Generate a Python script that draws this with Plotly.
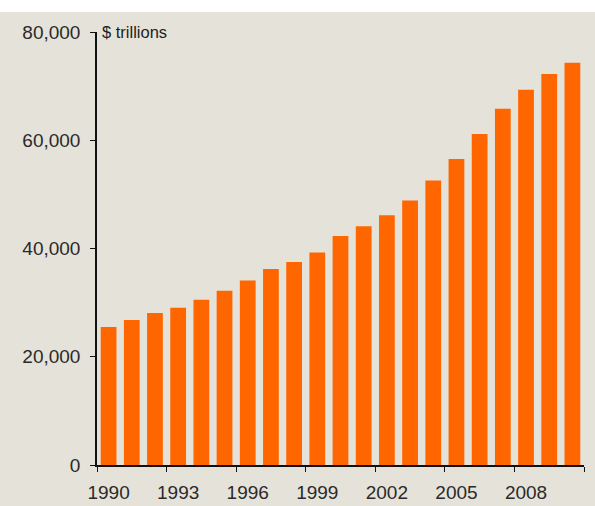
import plotly.graph_objects as go

years = [str(y) for y in range(1990, 2011)]
values = [25500, 26800, 28100, 29060, 30530, 32200, 34100, 36200, 37500, 39260,
          42290, 44130, 46160, 48860, 52550, 56550, 61160, 65830, 69340, 72230, 74320]
y_ticks = [0, 20000, 40000, 60000, 80000]
unit_label = "$ trillions"

bg = "#e5e2d9"
txt = "#2a2a2a"

fig = go.Figure(go.Bar(x=years, y=values, marker=dict(color="#ff6600", line=dict(width=0)),
                       hoverinfo="skip"))

fig.update_layout(
    width=595, height=506,
    paper_bgcolor=bg, plot_bgcolor=bg,
    margin=dict(l=97, r=11, t=32, b=41, autoexpand=False),
    bargap=0.32,
    showlegend=False,
    font=dict(family="Liberation Sans, Arial, sans-serif", size=19, color=txt),
    shapes=[dict(type="rect", xref="paper", yref="paper", x0=-0.3, x1=1.1,
                 y0=1.0 + 20/433, y1=1.2, fillcolor="white", line=dict(width=0), layer="above")],
    annotations=[dict(text=unit_label, xref="paper", yref="y", x=0.006, y=80000,
                      xanchor="left", yanchor="middle", showarrow=False,
                      font=dict(size=16.5, color="#1e1e1e"))],
)
fig.update_xaxes(
    type="category", tickmode="linear", dtick=3, tick0=0, tickangle=0, automargin=False,
    tickson="boundaries", ticks="outside", ticklen=5, tickcolor="#111111",
    showline=True, linecolor="#111111", linewidth=1.5, showgrid=False,
    tickfont=dict(size=19, color=txt), ticklabelstandoff=9,
)
fig.update_yaxes(
    range=[0, 80000], tickvals=y_ticks, tickformat=",", automargin=False,
    ticks="outside", ticklen=5, tickcolor="#111111",
    showline=True, linecolor="#111111", linewidth=1.5, showgrid=False, zeroline=False,
    tickfont=dict(size=19, color=txt), ticklabelstandoff=6,
)

fig.write_html("out.html", config={"displayModeBar": False},
               post_script="document.body.style.margin='0';")
